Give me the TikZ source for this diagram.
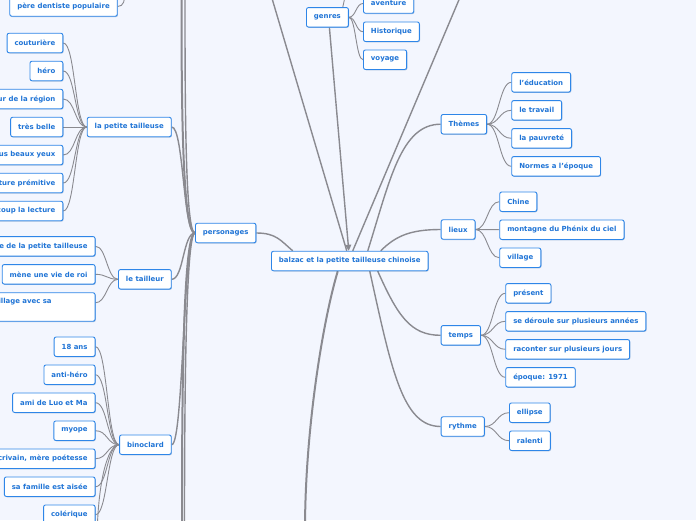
\documentclass[tikz,border=0pt]{standalone}
\usepackage{fontspec}
\setmainfont{DejaVu Sans}
\usepackage{tikz}
\usetikzlibrary{positioning,arrows.meta,backgrounds,shadows}
\definecolor{MapBack}{HTML}{F3F6FE}
\definecolor{MapBlue}{HTML}{2E86E8}
\definecolor{MapText}{HTML}{1F74D6}
\definecolor{MapLine}{HTML}{8A8A90}

\tikzset{
  topic/.style={draw=MapBlue, fill=white, line width=0.9pt, rounded corners=2pt,
    text=MapText, font=\fontsize{6.95}{9}\selectfont\bfseries,
    inner xsep=7.5pt, inner ysep=0pt, minimum height=19.5pt,
    drop shadow={shadow xshift=0.7pt, shadow yshift=-0.8pt, opacity=0.35, fill=MapBlue!70!black}},
  branch/.style={draw=MapLine, line width=1.4pt},
  trunk/.style={draw=MapLine, line width=2pt},
  twig/.style={draw=MapLine, line width=0.9pt},
}

\begin{document}
\begin{tikzpicture}[x=1pt,y=-1pt]
  \useasboundingbox (0,0) rectangle (696,520);
  \clip (0,0) rectangle (696,520);

  % centre
  \node[topic, anchor=west] (balzac) at (271,261) {balzac et la petite tailleuse chinoise};

  % genres
  \node[topic, anchor=west] (genres) at (306,17.3) {genres};
  \node[topic, anchor=west] (aventure) at (363,3.5) {aventure};
  \node[topic, anchor=west] (histo) at (363,31.7) {Historique};
  \node[topic, anchor=west] (voyage) at (363,59.7) {voyage};

  % themes
  \node[topic, anchor=west] (themes) at (440.7,124.2) {Thèmes};
  \node[topic, anchor=west] (educ) at (511.3,82.3) {l'éducation};
  \node[topic, anchor=west] (travail) at (511.3,110.3) {le travail};
  \node[topic, anchor=west] (pauvrete) at (511.3,138.3) {la pauvreté};
  \node[topic, anchor=west] (normes) at (511.3,166.3) {Normes a l'époque};

  % lieux
  \node[topic, anchor=west] (lieux) at (440.7,229.5) {lieux};
  \node[topic, anchor=west] (chine) at (499.3,201.7) {Chine};
  \node[topic, anchor=west] (montagne) at (499.3,229.7) {montagne du Phénix du ciel};
  \node[topic, anchor=west] (village) at (499.3,257.7) {village};

  % temps
  \node[topic, anchor=west] (temps) at (440.7,335.3) {temps};
  \node[topic, anchor=west] (present) at (505.3,293.3) {présent};
  \node[topic, anchor=west] (annees) at (505.3,321.3) {se déroule sur plusieurs années};
  \node[topic, anchor=west] (jours) at (505.3,349.3) {raconter sur plusieurs jours};
  \node[topic, anchor=west] (epoque) at (505.3,377.3) {époque: 1971};

  % rythme
  \node[topic, anchor=west] (rythme) at (440.7,426.5) {rythme};
  \node[topic, anchor=west] (ellipse) at (509,412.7) {ellipse};
  \node[topic, anchor=west] (ralenti) at (509,440.7) {ralenti};

  % personages
  \node[topic, anchor=west] (perso) at (195,233) {personages};
  \node[topic, anchor=east] (dentiste) at (117.7,6.5) {père dentiste populaire};

  \node[topic, anchor=east] (tailleuse) at (171.7,127) {la petite tailleuse};
  \node[topic, anchor=east] (couture) at (63.3,43) {couturière};
  \node[topic, anchor=east] (hero) at (63.3,71) {héro};
  \node[topic, anchor=east] (region) at (63.3,99) {ur de la région};
  \node[topic, anchor=east] (belle) at (63.3,127) {très belle};
  \node[topic, anchor=east] (yeux) at (63.3,155) {us beaux yeux};
  \node[topic, anchor=east] (culture) at (63.3,183) {ture prémitive};
  \node[topic, anchor=east] (lecture) at (63.3,211) {coup la lecture};

  \node[topic, anchor=east] (tailleur) at (171.7,279.3) {le tailleur};
  \node[topic, anchor=east] (pere) at (95.5,246.3) {e de la petite tailleuse};
  \node[topic, anchor=east] (roi) at (95.5,274.3) {mène une vie de roi};
  \node[topic, anchor=north east, text width=89pt, align=left, minimum height=28.5pt,
        inner ysep=3.5pt] (villavec) at (95.5,292.3) {illage avec sa\\\strut};

  \node[topic, anchor=east] (bino) at (171.7,444.7) {binoclard};
  \node[topic, anchor=east] (ans) at (95.5,346.7) {18 ans};
  \node[topic, anchor=east] (antihero) at (95.5,374.7) {anti-héro};
  \node[topic, anchor=east] (ami) at (95.5,402.7) {ami de Luo et Ma};
  \node[topic, anchor=east] (myope) at (95.5,430.7) {myope};
  \node[topic, anchor=east] (ecrivain) at (95.5,458.7) {crivain, mère poétesse};
  \node[topic, anchor=east] (aisee) at (95.5,486.7) {sa famille est aisée};
  \node[topic, anchor=east] (colere) at (95.5,514.7) {colérique};

  % bouts hors cadre
  \coordinate (hautG) at (271,-5);
  \coordinate (hautD) at (461,-5);
  \coordinate (bas) at (305,530);
  \coordinate (persoHaut1) at (181.5,-5);
  \coordinate (persoHaut2) at (185,-5);
  \coordinate (persoBas1) at (182,530);
  \coordinate (persoBas2) at (184.5,530);
  \coordinate (dentHaut) at (125,-8);
  \coordinate (genHaut) at (346,-8);
  \coordinate (binoBas) at (97,545);

  \begin{pgfonlayer}{background}
    \fill[MapBack] (0,0) rectangle (696,520);

    % liens du centre
    \draw[branch] (hautG) -- ([xshift=-3pt]balzac.north);
    \draw[branch] (hautD) -- ([xshift=3pt]balzac.north);
    \draw[branch, -{Triangle[width=6pt,length=6pt]}] ([xshift=2pt]genres.south) -- ([xshift=-1pt]balzac.north);
    \draw[branch] ([xshift=18pt]balzac.north) .. controls +(22,-70) and +(-40,0) .. (themes.west);
    \draw[branch] ([xshift=31pt]balzac.north) .. controls +(15,-15) and +(-30,0) .. (lieux.west);
    \draw[branch] ([xshift=28pt]balzac.south) .. controls +(20,45) and +(-30,0) .. (temps.west);
    \draw[branch] ([xshift=20pt]balzac.south) .. controls +(22,100) and +(-38,0) .. (rythme.west);
    \draw[trunk] ([xshift=-12pt]balzac.south) .. controls +(-15,50) and +(0,-100) .. (bas);
    \draw[branch] (perso.east) .. controls +(20,0) and +(-12,-10) .. ([xshift=-57pt]balzac.north);

    % personages
    \draw[branch] (perso.west) .. controls +(-12,0) and +(12,0) .. (tailleuse.east);
    \draw[branch] (perso.west) .. controls +(-12,0) and +(12,0) .. (tailleur.east);
    \draw[branch] (perso.west) .. controls +(-12,0) and +(12,0) .. (bino.east);
    \draw[trunk] (perso.west) .. controls +(-13,0) and +(0,100) .. (persoHaut1);
    \draw[branch] (perso.west) .. controls +(-10,0) and +(0,100) .. (persoHaut2);
    \draw[trunk] (perso.west) .. controls +(-13,0) and +(0,-100) .. (persoBas1);
    \draw[branch] (perso.west) .. controls +(-10,0) and +(0,-100) .. (persoBas2);
    \draw[twig] (dentiste.east) .. controls +(6,0) and +(0,8) .. (dentHaut);

    % eventails
    \foreach \c in {couture,hero,region,belle,yeux,culture,lecture}
      \draw[twig] (tailleuse.west) .. controls +(-12,0) and +(12,0) .. (\c.east);
    \foreach \c in {pere,roi}
      \draw[twig] (tailleur.west) .. controls +(-11,0) and +(11,0) .. (\c.east);
    \draw[twig] (tailleur.west) .. controls +(-11,0) and +(11,0) .. ([yshift=4.2pt]villavec.east);
    \foreach \c in {ans,antihero,ami,myope,ecrivain,aisee,colere}
      \draw[twig] (bino.west) .. controls +(-12,0) and +(12,0) .. (\c.east);
    \draw[twig] (bino.west) .. controls +(-12,0) and +(0,-60) .. (binoBas);
    \foreach \c in {aventure,histo,voyage}
      \draw[twig] (genres.east) .. controls +(7,0) and +(-7,0) .. (\c.west);
    \draw[twig] ([xshift=-6pt]genres.north east) -- (genHaut);
    \foreach \c in {educ,travail,pauvrete,normes}
      \draw[twig] (themes.east) .. controls +(12,0) and +(-12,0) .. (\c.west);
    \foreach \c in {chine,montagne,village}
      \draw[twig] (lieux.east) .. controls +(12,0) and +(-12,0) .. (\c.west);
    \foreach \c in {present,annees,jours,epoque}
      \draw[twig] (temps.east) .. controls +(12,0) and +(-12,0) .. (\c.west);
    \foreach \c in {ellipse,ralenti}
      \draw[twig] (rythme.east) .. controls +(12,0) and +(-12,0) .. (\c.west);
  \end{pgfonlayer}
\end{tikzpicture}
\end{document}
